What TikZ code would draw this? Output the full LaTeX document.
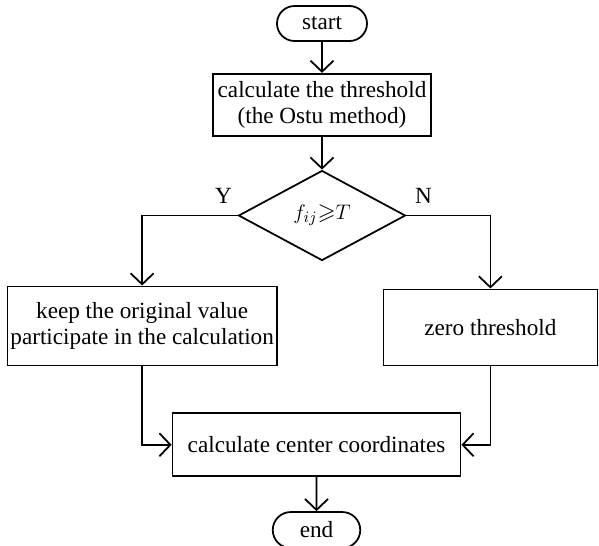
\documentclass[tikz,border=0pt]{standalone}
\usepackage{amssymb}
\usepackage{fontspec}
\setmainfont{Liberation Serif}
\usepackage{tikz}
\usetikzlibrary{positioning}
\usetikzlibrary{shapes.geometric}
\usetikzlibrary{shapes.misc}
\usetikzlibrary{arrows.meta}

\begin{document}
\begin{tikzpicture}[
    font=\fontsize{13.2}{15}\selectfont,
    line width=1pt,
    term/.style={draw, rounded rectangle, minimum width=1.8cm, minimum height=0.7cm, inner sep=0pt},
    proc/.style={draw, rectangle, align=center, inner sep=1pt},
    decide/.style={draw, diamond, minimum width=3.34cm, minimum height=1.8cm, inner sep=0pt},
    flow/.style={-{Straight Barb[length=2.2mm,width=4.6mm]}},
]
    \useasboundingbox (0,0) rectangle (11.98,-10.9);

    \node [term] (start) at (6.44,-0.47) {start};
    \node [proc, below=0.62cm of start, minimum width=4.36cm, minimum height=1.24cm] (thresh) {calculate the threshold\\(the Ostu method)};
    \node [decide, below=0.66cm of thresh] (dec) {$f_{ij}{\geqslant}T$};

    \node [proc, below=1.4cm of dec.west, xshift=-1.91cm, minimum width=5.38cm, minimum height=1.58cm] (keep) {keep the original value\\participate in the calculation};
    \node [proc, below=1.46cm of dec.east, xshift=1.68cm, minimum width=4.28cm, minimum height=1.52cm] (zero) {zero threshold};
    \node [proc, below=3.02cm of dec.south, xshift=-0.11cm, minimum width=5.76cm, minimum height=1.26cm] (centre) {calculate center coordinates};
    \node [term, below=0.68cm of centre, minimum width=1.75cm, minimum height=0.72cm] (stop) {end};

    \node (ylab) at ([xshift=-0.28cm, yshift=0.4cm]dec.west) {Y};
    \node (nlab) at ([xshift=0.34cm, yshift=0.4cm]dec.east) {N};

    \draw [flow] (start) -- (thresh);
    \draw [flow] (thresh) -- (dec);
    \draw [flow] (dec.west) -| (keep.north);
    \draw [flow] (dec.east) -| (zero.north);
    \draw [flow] (keep.south) |- (centre.west);
    \draw [flow] (zero.south) |- (centre.east);
    \draw [flow] (centre) -- (stop);
\end{tikzpicture}
\end{document}
